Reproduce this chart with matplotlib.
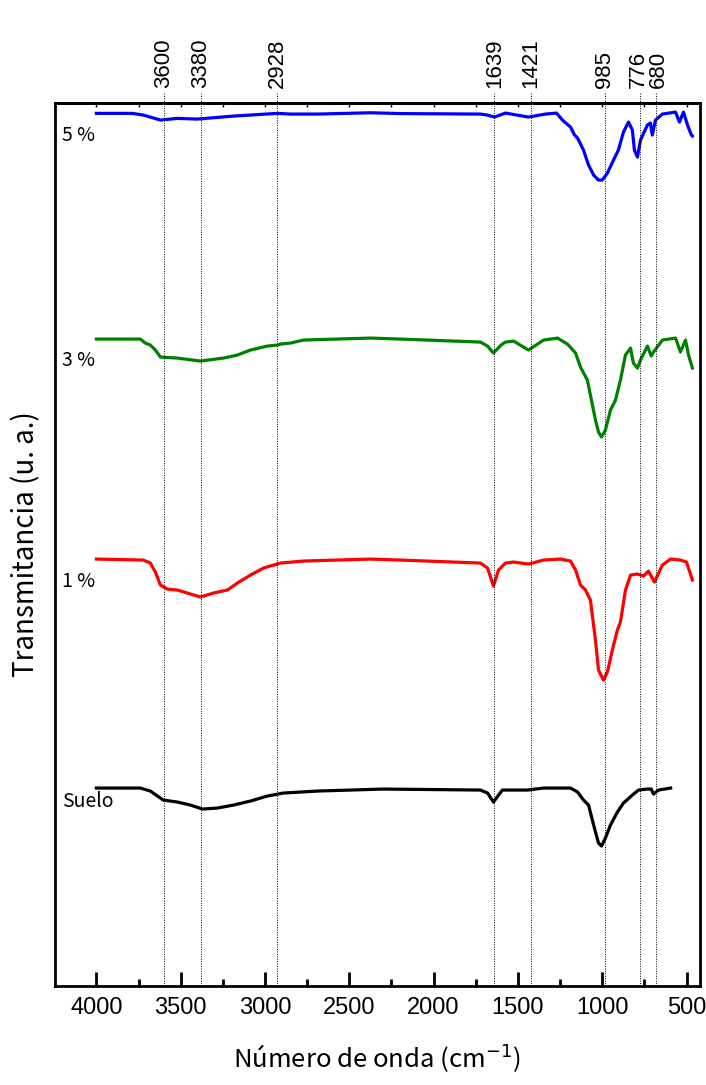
import matplotlib
matplotlib.use('Agg')
import matplotlib.pyplot as plt
from matplotlib.ticker import MultipleLocator
import matplotlib.transforms as mtransforms

# Wavenumber (cm-1) and transmittance (arbitrary units, stacked)
wn_5 = [4000, 3787, 3721, 3620, 3520, 3401, 3187, 2926, 2849, 2689, 2375, 2197, 1722, 1680,
        1639, 1574, 1437, 1337, 1271, 1236, 1188, 1164, 1146, 1111, 1081, 1051, 1022, 1000,
        969, 933, 904, 874, 844, 821, 809, 791, 773, 732, 714, 703, 684, 643, 565, 542,
        518, 494, 471, 465]
t_5 = [872.7, 872.7, 871, 866, 867.7, 867, 870, 872.7, 872, 872, 873.3, 872.5, 872, 871,
       869, 873, 869, 872, 873, 866, 859, 851, 848, 836, 821, 811, 806, 806,
       813, 826, 836, 854, 864, 856, 836, 829, 846, 861, 863, 851, 866, 872, 874, 864,
       874, 861, 851, 850]

wn_3 = [4000, 3739, 3710, 3680, 3650, 3620, 3520, 3383, 3246, 3164, 3086, 2986, 2926, 2909,
        2849, 2772, 2375, 2197, 1722, 1680, 1645, 1600, 1574, 1526, 1437, 1348, 1265, 1206,
        1158, 1129, 1088, 1070, 1040, 1022, 1004, 981, 951, 921, 892, 862, 832, 815, 791,
        773, 732, 709, 696, 643, 565, 536, 506, 488, 465]
t_3 = [647, 647, 643, 641, 636, 629, 628, 625, 628, 631, 636, 640, 641, 642,
       643, 646, 648, 647, 644, 640, 633, 641, 644, 645, 636, 646, 648, 642,
       633, 619, 606, 591, 566, 554, 549, 556, 576, 586, 606, 631, 638, 623, 618,
       626, 640, 630, 634, 646, 648, 634, 646, 631, 618]

wn_1 = [4000, 3721, 3680, 3650, 3620, 3579, 3520, 3460, 3383, 3306, 3223, 3164, 3086, 3009,
        2909, 2772, 2375, 2197, 1722, 1680, 1645, 1615, 1574, 1526, 1437, 1348, 1248, 1188,
        1158, 1129, 1099, 1070, 1040, 1022, 993, 969, 940, 910, 892, 862, 832, 791, 755,
        726, 703, 690, 643, 595, 536, 500, 465]
t_1 = [427, 426, 423, 414, 401, 397, 396, 393, 389, 393, 396, 403, 411, 418,
       423, 425, 427, 426, 423, 418, 400, 416, 423, 424, 422, 426, 427, 425,
       416, 401, 396, 386, 346, 316, 306, 314, 336, 356, 364, 396, 411, 412, 410,
       415, 408, 404, 421, 427, 426, 424, 406]

wn_s = [4000, 3739, 3680, 3638, 3603, 3520, 3442, 3371, 3282, 3187, 3086, 2986, 2891, 2689,
        2297, 1722, 1680, 1645, 1610, 1592, 1444, 1348, 1188, 1146, 1111, 1081, 1051, 1022,
        1004, 981, 951, 910, 874, 821, 785, 732, 709, 696, 666, 594]
t_s = [198, 198, 195, 190, 186, 184, 181, 177, 178, 181, 185, 190, 193, 195,
       197, 196, 193, 184, 192, 196, 196, 198, 198, 194, 186, 181, 161, 143,
       140, 148, 161, 174, 183, 191, 196, 197, 197, 192, 196, 198]

series = [
    (wn_5, t_5, 'blue', '5 %', 851),
    (wn_3, t_3, 'green', '3 %', 626),
    (wn_1, t_1, 'red', '1 %', 405),
    (wn_s, t_s, 'black', 'Suelo', 185),
]

marked_wn = [3600, 3380, 2928, 1639, 1421, 985, 776, 680]
label_shift = [0, 0, 0, 0, 0, 0, -2, 2]

fig = plt.figure(figsize=(7.06, 10.85), dpi=100)
ax = fig.add_axes([0.078, 0.0912, 0.9135, 0.8138])

for wn, t, color, label, ytxt in series:
    ax.plot(wn, t, color=color, lw=2.3)
    ax.text(4205, ytxt, label, fontsize=14, family=['Noto Sans CJK KR', 'DejaVu Sans'],
            ha='left', va='center')

ax.set_xlim(4245, 420)
ax.set_ylim(0, 883)

# dotted reference lines, running above the frame up to the labels
trans = mtransforms.blended_transform_factory(ax.transData, ax.transAxes)
for w, dx in zip(marked_wn, label_shift):
    ax.plot([w, w], [0, 1.013], transform=trans, color='black', lw=0.7,
            ls=(0, (1, 1.5)), clip_on=False)
    ax.text(w, 1.017, str(w), rotation=90, ha='center', va='bottom', fontsize=16,
            family='Liberation Sans',
            transform=mtransforms.offset_copy(trans, fig, x=dx, units='dots'))

ax.xaxis.set_major_locator(MultipleLocator(500))
ax.xaxis.set_minor_locator(MultipleLocator(250))
ax.tick_params(axis='x', which='major', direction='in', length=10, width=2,
               top=False, labelsize=17, pad=8)
ax.tick_params(axis='x', which='minor', direction='in', length=5, width=2, top=False)
ax.set_yticks([])
for lab in ax.get_xticklabels():
    lab.set_family('Liberation Sans')
for sp in ax.spines.values():
    sp.set_linewidth(2)

# tiny ticks along the top frame
sec = ax.secondary_xaxis('top')
sec.xaxis.set_major_locator(MultipleLocator(250))
sec.tick_params(direction='in', length=3, width=1, labeltop=False)
sec.spines['top'].set_linewidth(2)

ax.set_xlabel('Número de onda (cm$^{-1}$)', fontsize=18.5,
              family=['Noto Sans CJK KR', 'DejaVu Sans'], labelpad=16)
ax.set_ylabel('Transmitancia (u. a.)', fontsize=20,
              family=['Noto Sans CJK KR', 'DejaVu Sans'], labelpad=10)

fig.savefig('out.png', dpi=100)
